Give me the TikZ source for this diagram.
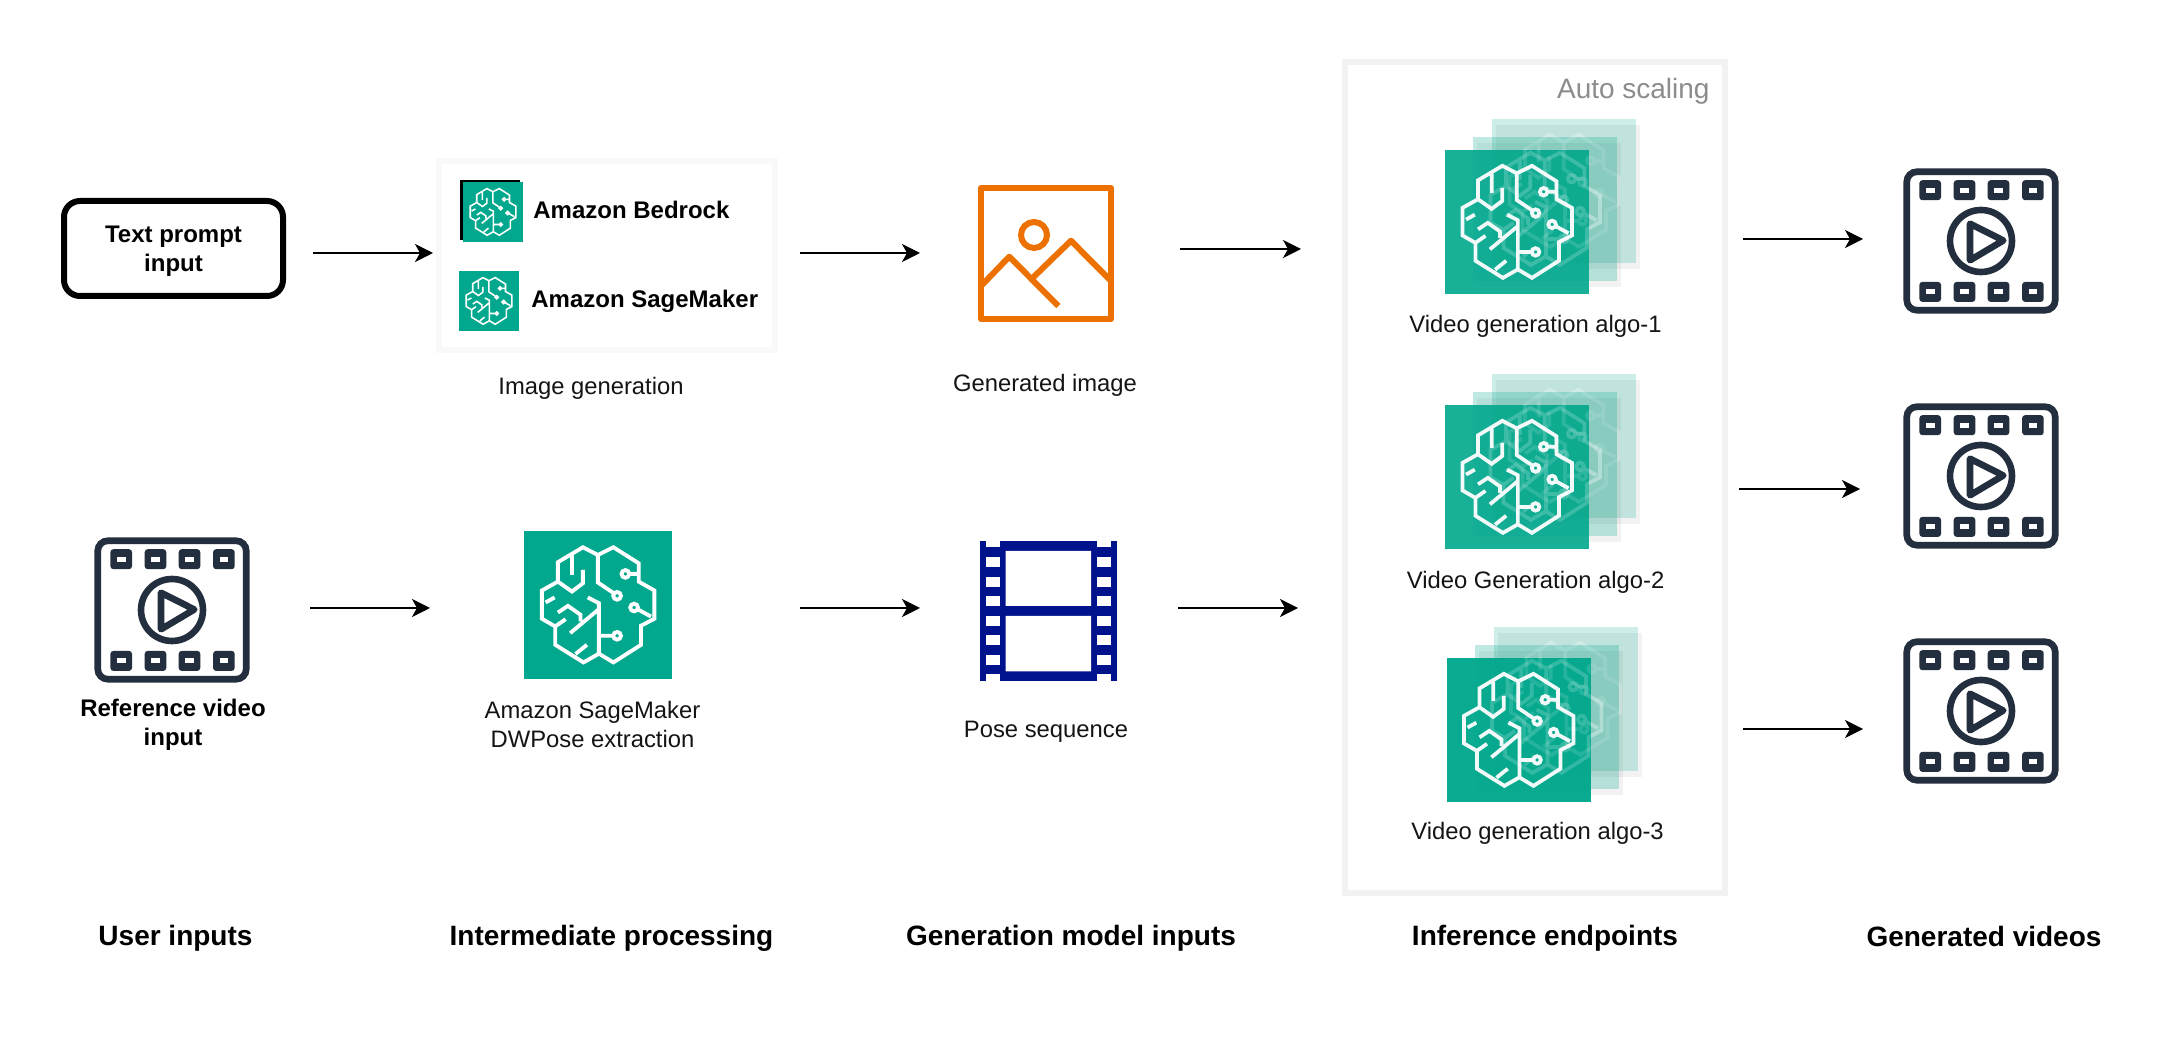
\documentclass[tikz,border=0pt]{standalone}
\usepackage{fontspec}
\setmainfont{Liberation Sans}
\usetikzlibrary{arrows.meta}
\definecolor{sagegreen}{HTML}{01A88D}
\definecolor{squidink}{HTML}{232F3E}
\definecolor{imgorange}{HTML}{ED7100}
\definecolor{filmblue}{HTML}{00128C}
\definecolor{scalegray}{HTML}{8C8C8C}
\tikzset{
	caption/.style={font=\fontsize{11.9}{14.5}\selectfont,align=center,inner sep=0pt,text=black!92},
	boldcaption/.style={caption,font=\fontsize{12}{14.5}\selectfont\bfseries,text=black},
	heading/.style={caption,font=\fontsize{14}{16}\selectfont\bfseries,text=black},
	flow/.style={-{Stealth[length=9pt,width=9pt,inset=2.5pt]},line width=0.9pt},
	groupbox/.style={line width=3pt}
}
% #1,#2 top left corner, #3 side, #4 line opacity
\newcommand{\brainlines}[4]{
	\begin{scope}[shift={(#1,#2)},scale=#3/100]
		\draw[white,opacity=#4,line width=#3*.013pt,line join=miter]
			(49.9,16.2) -- (39.8,11) -- (22.9,21.1) -- (22.9,34.2) -- (12.1,40.2) -- (12.1,59.3) -- (21.1,64.5) -- (21.1,76.9) -- (40.2,88.8) -- (50.6,82.9) -- (60.4,88.8) -- (79.1,76.9) -- (79.1,64) -- (88.1,59.3) -- (88.1,40.2) -- (77.5,34.2) -- (77.5,21.8) -- (60.4,11) -- cycle
			(50.6,82.9) -- (50.6,48.8) -- (43.1,44.9)
			(49.9,16.2) -- (49.9,34.8) -- (60,41.6)
			(62.9,43.8) circle (2.6)
			(68.5,29) circle (2.6) (71.1,29) -- (77.5,29)
			(74.4,51.7) circle (2.6) (77,53) -- (85.8,57.8)
			(62.9,70.8) circle (2.6) (60.3,70.8) -- (50.6,70.8)
			(32.4,16.6) -- (32.4,29.7)
			(39.8,26.3) -- (39.8,35.3) -- (32.4,40.9) -- (22.9,34.2)
			(14.6,48.3) -- (20.7,44.9)
			(22.9,55.1) -- (29.7,50.6) -- (38.2,56.6) -- (38.2,61.1)
			(31.2,69) -- (50.6,52.8)
			(21.1,64.5) -- (28.1,59.6)
			(34.8,83.1) -- (42.5,76.9);
	\end{scope}
}
% #1,#2 top left corner, #3 side, #4 square opacity, #5 line opacity
\newcommand{\brainicon}[5]{
	\fill[sagegreen,opacity=#4] (#1,#2) rectangle +(#3,#3);
	\brainlines{#1}{#2}{#3}{#5}
}
% #1,#2 top left corner of the front square, #3 its opacity
\newcommand{\brainstack}[3]{
	\begin{scope}[shift={(#1,#2)}]
		\fill[black,opacity=.05] (51,-25) rectangle +(144,144);
		\brainicon{47}{-31}{144}{.2}{.3}
		\fill[black,opacity=.05] (32,-7) rectangle +(144,144);
		\brainicon{28}{-13}{144}{.25}{.35}
		\brainicon{0}{0}{144}{#3}{.95}
		\begin{scope}
			\clip (0,0) rectangle (144,144);
			\brainlines{47}{-31}{144}{.12}
			\brainlines{28}{-13}{144}{.18}
		\end{scope}
	\end{scope}
}
% #1,#2 centre
\newcommand{\videoicon}[2]{
	\begin{scope}[shift={(#1,#2)}]
		\draw[squidink,line width=3.35pt,rounded corners=5pt] (-74.2,-69.2) rectangle (74.2,69.2);
		\foreach \hx in {-50.8,-16.5,17.5,51.9}
			\foreach \hy in {-50.8,50.9} {
				\fill[squidink,rounded corners=1.5pt] (\hx-10.8,\hy-10) rectangle (\hx+10.8,\hy+10);
				\fill[white] (\hx-4.3,\hy-2.5) rectangle (\hx+4.3,\hy+2.5);
			}
		\draw[squidink,line width=3.3pt] (0,0) circle (31);
		\draw[squidink,line width=3.3pt,line join=round] (-11,-17.3) -- (22.3,-0.5) -- (-11,19.3) -- cycle;
	\end{scope}
}
\begin{document}
\begin{tikzpicture}[x=0.5pt,y=-0.5pt]
	\useasboundingbox (0,0) rectangle (2170,1052);
	\fill[white] (0,0) rectangle (2170,1052);

	\draw[groupbox,draw=black!5,fill=white] (1345,62) rectangle (1725,893);
	\draw[groupbox,draw=black!2.5,fill=white] (439,161) rectangle (775,350);

	\node[draw,line width=3pt,rounded corners=8pt,minimum width=109.5pt,minimum height=47.5pt,inner sep=0pt] (textprompt) at (173.5,248.5) {};
	\node[boldcaption] (textpromptlabel) at (173.5,251.5) {Text prompt\\input};

	\videoicon{172}{610}
	\node[boldcaption] (refvideolabel) at (173,725) {Reference video\\input};

	\fill[black] (460,180) rectangle (520,240);
	\brainicon{463}{182}{60}{1}{1}
	\brainicon{459}{271}{60}{1}{1}
	\node[boldcaption,anchor=west] (bedrocklabel) at (533,209.5) {Amazon Bedrock};
	\node[boldcaption,anchor=west] (sagemakerlabel) at (531,301.5) {Amazon SageMaker};
	\node[caption] (imagegenlabel) at (591,388) {Image generation};

	\brainicon{524}{531}{148}{1}{1}
	\node[caption] (dwposelabel) at (592.5,724) {Amazon SageMaker\\DWPose extraction};

	\draw[imgorange,line width=3pt,line join=round] (981,188) rectangle (1111,319);
	\draw[imgorange,line width=3pt] (1034,235) circle (13);
	\draw[imgorange,line width=3pt,line join=round] (981,286) -- (1009.3,256.7) -- (1058.3,306);
	\draw[imgorange,line width=3pt,line join=round] (1033.3,277.3) -- (1071,240.7) -- (1111,281);
	\node[caption] (genimagelabel) at (1045,385.5) {Generated image};

	\fill[filmblue] (980,541) rectangle (1116.7,681);
	\fill[white] (1005.7,551) rectangle (1091,606) (1005.7,616) rectangle (1091,671.3);
	\foreach \hy/\hh in {541/6.5,557/10,576.7/10,596.3/10,616/10,635.3/10,654.7/10,674.5/6.5} {
		\fill[white] (986.3,\hy) rectangle +(13.4,\hh);
		\fill[white] (1097.3,\hy) rectangle +(13.4,\hh);
	}
	\node[caption] (poselabel) at (1046,732) {Pose sequence};

	\node[caption,font=\fontsize{14}{16}\selectfont,text=scalegray,anchor=east] (autoscaling) at (1710,91) {Auto scaling};
	\brainstack{1445}{150}{.9}
	\brainstack{1445}{405}{.9}
	\brainstack{1446.5}{658}{.96}
	\node[caption] (algoone) at (1535.5,326.7) {Video generation algo-1};
	\node[caption] (algotwo) at (1535.6,582.7) {Video Generation algo-2};
	\node[caption] (algothree) at (1537.6,833.3) {Video generation algo-3};

	\videoicon{1981}{241}
	\videoicon{1981}{476}
	\videoicon{1981}{711}

	\node[heading] (userinputs) at (175.5,938.5) {User inputs};
	\node[heading] (intermediate) at (611.5,938.5) {Intermediate processing};
	\node[heading] (modelinputs) at (1071,938.5) {Generation model inputs};
	\node[heading] (endpoints) at (1545,938.5) {Inference endpoints};
	\node[heading] (genvideos) at (1984,936.5) {Generated videos};

	\coordinate (texttail) at (313,253);
	\coordinate (texthead) at (433,253);
	\coordinate (imgtail) at (800,253);
	\coordinate (imghead) at (920,253);
	\coordinate (gentail) at (1180,249);
	\coordinate (genhead) at (1301,249);
	\coordinate (videotail) at (310,608);
	\coordinate (videohead) at (430,608);
	\coordinate (dwtail) at (800,608);
	\coordinate (dwhead) at (920,608);
	\coordinate (posetail) at (1178,608);
	\coordinate (posehead) at (1298,608);
	\coordinate (algoonetail) at (1743,239);
	\coordinate (algoonehead) at (1863,239);
	\coordinate (algotwotail) at (1739,489);
	\coordinate (algotwohead) at (1860,489);
	\coordinate (algothreetail) at (1743,729);
	\coordinate (algothreehead) at (1863,729);
	\path[flow]
	(texttail) edge (texthead)
	(imgtail) edge (imghead)
	(gentail) edge (genhead)
	(videotail) edge (videohead)
	(dwtail) edge (dwhead)
	(posetail) edge (posehead)
	(algoonetail) edge (algoonehead)
	(algotwotail) edge (algotwohead)
	(algothreetail) edge (algothreehead);
\end{tikzpicture}
\end{document}
